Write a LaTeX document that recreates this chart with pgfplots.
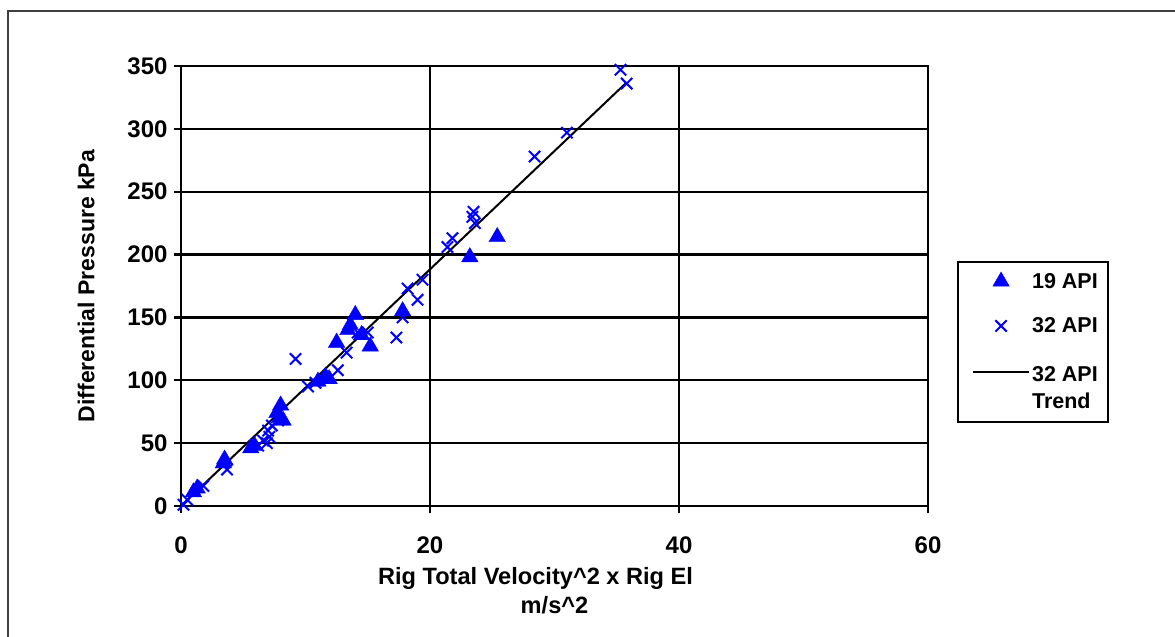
\documentclass[border=0pt]{standalone}
\usepackage{pgfplots}
\pgfplotsset{compat=1.18}
\usepackage{fontspec}
\setmainfont{Liberation Sans}
\definecolor{ptblue}{RGB}{0,0,255}
\pgfplotsset{
  markleg/.style={legend image code/.code={\draw[mark repeat=2,mark phase=2,##1] plot coordinates {(0pt,0pt) (28pt,0pt) (56pt,0pt)};}},
  lineleg/.style={legend image code/.code={\draw[##1] (0pt,0pt) -- (56pt,0pt);}},
}
\begin{document}
\begin{tikzpicture}[x=1pt,y=1pt]
\path[use as bounding box] (0,0) rectangle (1175,637);
\draw[line width=1.5pt, black!75] (8,0) -- (8,626) -- (1175,626);
\draw[line width=2pt, black] (958,215) rectangle (1108,375);
\begin{axis}[
  at={(181pt,131pt)}, anchor=south west,
  scale only axis, width=747pt, height=440pt,
  xmin=0, xmax=60, ymin=0, ymax=350,
  xtick={0,20,40,60}, ytick={0,50,...,350},
  grid=major, major grid style={black, line width=2.2pt},
  axis line style={black, line width=2.2pt},
  tick style={black, line width=2.2pt},
  tick align=outside, major tick length=7pt, tick pos=left,
  /pgf/number format/assume math mode=true,
  ticklabel style={font=\bfseries\fontsize{24}{28}\selectfont},
  xticklabel style={yshift=-20pt},
  yticklabel style={xshift=-3pt},
  xlabel={Rig Total Velocity\textasciicircum 2 x Rig El\hspace*{38pt}\\m/s\textasciicircum 2},
  xlabel style={font=\bfseries\fontsize{23.6}{29}\selectfont, align=center, yshift=-7pt},
  ylabel={Differential Pressure kPa},
  ylabel style={font=\bfseries\fontsize{23}{27}\selectfont, yshift=26pt},
  clip=false,
  legend style={at={(1.040,0.5477)}, anchor=north west, draw=none, fill=none,
    font=\bfseries\fontsize{21.5}{27}\selectfont, row sep=24pt,
    inner xsep=14pt, inner ysep=6pt,
    /tikz/every even column/.append style={column sep=0pt}},
  legend cell align=left,
]
\addplot[only marks, mark=triangle*, mark size=9.5pt, color=ptblue, mark options={fill=ptblue, draw=ptblue}, markleg] coordinates {
(1.0,11) (1.3,14) (3.5,37) (3.4,34) (5.6,46) (5.9,48) (7.7,74) (8.0,80) (8.2,68) (7.9,70)
(11.0,99) (11.6,103) (11.9,101) (12.5,130) (13.4,140) (13.6,144) (14.0,152) (14.5,136)
(15.2,127) (17.8,155) (23.2,198) (25.4,214)
};
\addlegendentry{19 API}
\addplot[only marks, mark=x, mark size=8pt, color=ptblue, mark options={line width=2pt}, markleg] coordinates {
(0.2,1) (0.5,5) (1.8,16) (3.7,29) (6.2,48) (6.6,52) (6.9,50) (7.1,55) (7.0,60) (7.3,64)
(7.8,68) (9.2,117) (10.2,95) (10.8,98) (12.6,108) (13.3,122) (14.2,138) (15.0,138)
(17.3,134) (17.8,150) (18.2,173) (19.0,164) (19.4,180) (21.4,206) (21.8,213) (23.5,234)
(23.4,230) (23.6,225) (28.4,278) (31.0,297) (35.3,347) (35.8,336)
};
\addlegendentry{32 API}
\addplot[black, line width=2pt, mark=none, lineleg] coordinates {(0,0) (35.8,337)};
\addlegendentry{\begin{tabular}[t]{@{}l@{}}32 API\\Trend\end{tabular}}
\end{axis}
\end{tikzpicture}
\end{document}
